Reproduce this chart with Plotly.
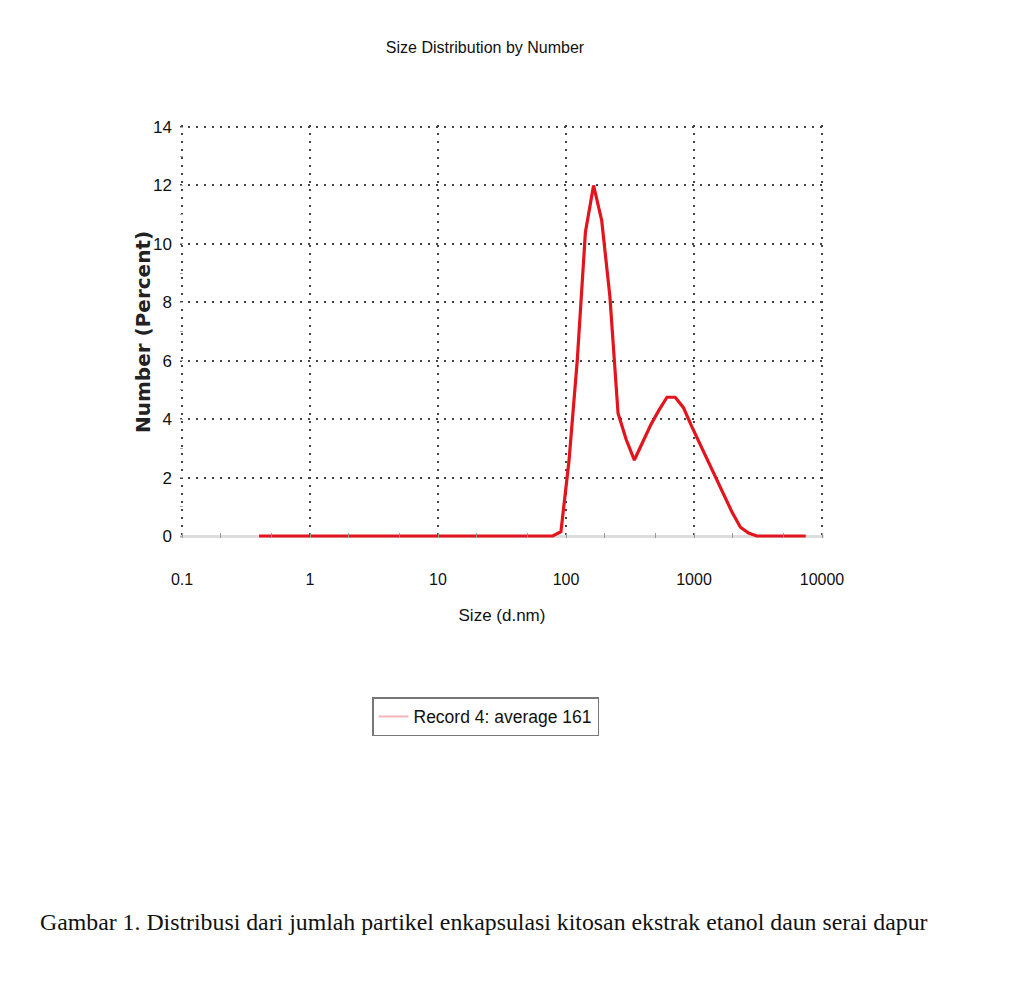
import plotly.graph_objects as go

sizes = [0.4, 0.4632, 0.5365, 0.6213, 0.7195, 0.8332, 0.9649, 1.117, 1.294, 1.499,
         1.736, 2.01, 2.328, 2.696, 3.122, 3.615, 4.187, 4.849, 5.615, 6.503,
         7.531, 8.721, 10.1, 11.7, 13.54, 15.69, 18.17, 21.04, 24.36, 28.21,
         32.67, 37.84, 43.82, 50.75, 58.77, 68.06, 78.82, 91.28, 105.7, 122.4,
         141.8, 164.2, 190.1, 220.2, 255.0, 295.3, 342.0, 396.1, 458.7, 531.2,
         615.1, 712.4, 825.0, 955.4, 1106, 1281, 1484, 1718, 1990, 2305,
         2669, 3091, 3580, 4145, 4801, 5560, 6439, 7456]
number_pct = [0]*37 + [0.15, 2.6, 6.0,
              10.4, 12.0, 10.8, 8.2, 4.2, 3.3, 2.6, 3.2, 3.8, 4.3,
              4.75, 4.75, 4.4, 3.77, 3.18, 2.58, 1.99, 1.4, 0.8, 0.3,
              0.1, 0, 0, 0, 0, 0, 0, 0]

x_tickvals = [0.1, 1, 10, 100, 1000, 10000]
x_ticktext = ["0.1", "1", "10", "100", "1000", "10000"]
y_tickvals = [0, 2, 4, 6, 8, 10, 12, 14]

title_text = "Size Distribution by Number"
x_title = "Size (d.nm)"
y_title = "Number (Percent)"
legend_name = "Record 4: average 161"
caption = "Gambar 1. Distribusi dari jumlah partikel enkapsulasi kitosan ekstrak etanol daun serai dapur"

sans = "Liberation Sans, Arial, sans-serif"

# plot area in page pixels (page has 8px body offset); padded 2px so edge gridlines are drawn
PL, PT, PW, PH = 180, 125, 644, 413
XPAD = 2 / 128.0   # decades
YPAD = 2 / 29.2    # y units

fig = go.Figure()
fig.add_trace(go.Scatter(x=sizes, y=number_pct, mode="lines",
                         line=dict(color="#e3141c", width=3.2),
                         showlegend=False, hoverinfo="x+y"))
fig.add_trace(go.Scatter(x=[None], y=[None], mode="lines", name=legend_name,
                         line=dict(color="#f2b5bb", width=2), showlegend=True))

fig.update_layout(
    width=1027, height=1000,
    paper_bgcolor="white", plot_bgcolor="white",
    margin=dict(l=PL - 8, r=1027 - (PL - 8) - PW, t=PT - 8, b=1000 - (PT - 8) - PH),
    font=dict(family=sans, color="#111111", size=16),
    xaxis=dict(type="log", range=[-1 - XPAD, 4 + XPAD], tickvals=x_tickvals, ticktext=x_ticktext,
               showgrid=True, gridcolor="#444444", griddash="2px,6px", gridwidth=1.5,
               showline=False, zeroline=False, ticks="", ticklabelstandoff=30,
               tickfont=dict(family=sans, size=16, color="#111111"),
               minor=dict(ticks="inside", ticklen=5, tickcolor="#999999", showgrid=False),
               title=dict(text=x_title, font=dict(family=sans, size=17, color="#111111"), standoff=22)),
    yaxis=dict(range=[0 - YPAD, 14 + YPAD], tickvals=y_tickvals,
               showgrid=True, gridcolor="#444444", griddash="2px,6px", gridwidth=1.5,
               showline=False, zeroline=True, zerolinecolor="#dddddd", zerolinewidth=3,
               ticks="", ticklabelstandoff=7,
               tickfont=dict(family=sans, size=17, color="#111111"),
               minor=dict(ticks="inside", ticklen=3, tickcolor="#aaaaaa", dtick=1, showgrid=False)),
    legend=dict(x=(372 - PL) / PW, y=(PT + PH - 697) / PH, xanchor="left", yanchor="top",
                bordercolor="#777777", borderwidth=1.5, bgcolor="white",
                font=dict(family=sans, size=17.5, color="#111111"), tracegroupgap=0),
    title=dict(text=title_text, x=(485 - 8) / 1027, xanchor="center", y=1 - (47 - 8) / 1000, yanchor="middle",
               font=dict(family=sans, size=16, color="#111111")),
)

fig.add_annotation(text="<b>" + y_title + "</b>", xref="paper", yref="paper", textangle=-90,
                   x=(143 - PL) / PW, y=(PT + PH - 332) / PH, xanchor="center", yanchor="middle",
                   showarrow=False, font=dict(family="DejaVu Sans, sans-serif", size=20, color="#222222"))

fig.add_annotation(text=caption, xref="paper", yref="paper",
                   x=(484 - PL) / PW, y=(PT + PH - 922) / PH, xanchor="center", yanchor="middle",
                   showarrow=False, font=dict(family="Liberation Serif, serif", size=23.8, color="#111111"))

fig.write_html("out.html")
